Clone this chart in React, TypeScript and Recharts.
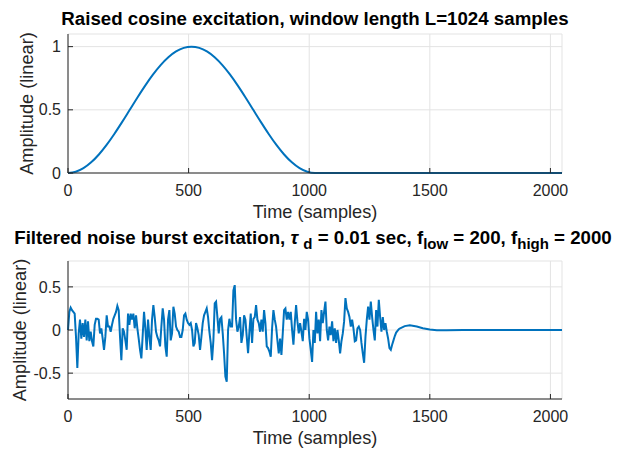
import { LineChart, Line, XAxis, YAxis, CartesianGrid } from 'recharts'

const FONT = '"Liberation Sans", Arial, Helvetica, sans-serif'
const BLUE = '#0072bd'
const AXIS = '#262626'
const GRID = '#e3e3e3'

// raised cosine window, read every 32 samples, then flat to the end
const rcSamples = [
  0, 32, 64, 96, 128, 160, 192, 224, 256, 288, 320, 352, 384, 416, 448, 480, 512,
  544, 576, 608, 640, 672, 704, 736, 768, 800, 832, 864, 896, 928, 960, 992, 1024, 2048,
]
const rcValues = [
  0, 0.0096, 0.0381, 0.0843, 0.1464, 0.2222, 0.3087, 0.4025, 0.5, 0.5975, 0.6913, 0.7778,
  0.8536, 0.9157, 0.9619, 0.9904, 1,
  0.9904, 0.9619, 0.9157, 0.8536, 0.7778, 0.6913, 0.5975, 0.5, 0.4025, 0.3087, 0.2222,
  0.1464, 0.0843, 0.0381, 0.0096, 0, 0,
]

// filtered noise burst, read every ~5.5 samples
const burstStep = 5.53
const burstValues = [
  0.0, 0.21, 0.26, 0.23, 0.21, 0.19, -0.08, -0.44, -0.04, 0.12,
  -0.1, 0.08, -0.08, 0.12, -0.12, 0.1, -0.13, -0.02, -0.13, -0.19,
  0.06, 0.13, 0.13, 0.12, -0.04, 0.02, -0.1, -0.23, -0.08, 0.17,
  0.04, 0.04, -0.02, 0.06, 0.13, 0.17, 0.21, 0.28, 0.23, -0.08,
  -0.35, 0.02, -0.02, -0.12, -0.23, 0.19, 0.06, 0.19, 0.12, 0.19,
  0.02, 0.17, 0.02, -0.1, -0.23, -0.33, -0.06, 0.21, 0.02, -0.23,
  0.12, -0.08, -0.23, 0.12, 0.29,
  0.15, -0.02, -0.08, -0.12, -0.19, 0.04, 0.25, 0.12, -0.19, -0.31,
  0.12, 0.23, -0.12, -0.04, 0.27, 0.19, 0.04, 0.0, -0.02, -0.08,
  -0.08, 0.0, 0.17, 0.19, 0.12, 0.08, 0.06, 0.08, 0.0, -0.19,
  -0.15, 0.08, 0.02, -0.06, -0.23, -0.08, 0.08, 0.17, 0.21, 0.25,
  0.15, -0.02, -0.15, -0.35, -0.12, 0.31, 0.33, 0.15, -0.04, 0.13,
  0.15, -0.04, -0.27, -0.54, -0.6, 0.0, 0.13, 0.04, 0.04, 0.46,
  0.52, 0.12, -0.02, 0.04,
  0.15, -0.15, -0.06, 0.17, 0.12, -0.08, -0.27, -0.02, 0.19, -0.15,
  0.13, 0.15, 0.29, 0.12, 0.08, -0.02, 0.12, -0.02, 0.23, 0.08,
  -0.19, -0.21, -0.25, -0.31, 0.02, 0.23, 0.12, 0.04, -0.12, -0.27,
  -0.1, -0.29, -0.04, 0.23, 0.25, 0.12, 0.21, 0.12, 0.21, 0.0,
  -0.17, 0.08, 0.29, 0.1, -0.04, 0.08, -0.02, -0.13, 0.13, 0.0,
  0.21, 0.12, -0.1, -0.23, -0.37, 0.0, -0.15, 0.21, -0.04, 0.12,
  -0.13, 0.23, 0.08, 0.21,
  0.33, 0.0, -0.12, 0.04, -0.06, 0.1, -0.13, 0.02, -0.15, 0.0,
  -0.12, -0.27, -0.13, -0.04, 0.1, 0.37, 0.25, 0.21, 0.15, 0.04,
  0.12, 0.02, -0.13, -0.12, 0.02, 0.04, 0.0, -0.15, -0.27, -0.38,
  -0.08, 0.12, 0.27, 0.12, 0.33, 0.15, 0.0, -0.12, 0.23, 0.04,
  0.35, 0.15, -0.02, 0.15, 0.0, 0.08, -0.02, -0.1, -0.21, -0.23,
  -0.17, -0.12, -0.07, -0.03, -0.01, 0.01, 0.02,
]
// filter ringing after the burst
const tailSamples = [1396, 1417, 1446, 1471, 1500, 1529, 1570, 1637, 2048]
const tailValues = [0.045, 0.054, 0.04, 0.02, 0.005, -0.004, -0.003, 0, 0]

const xTicks = [0, 500, 1000, 1500, 2000]
const rcTicks = [0, 0.5, 1]
const noiseTicks = [-0.5, 0, 0.5]

const rcData = rcSamples.map((x, i) => ({ x, y: rcValues[i] }))
const noiseData = [
  ...burstValues.map((y, i) => ({ x: i * burstStep, y })),
  ...tailSamples.map((x, i) => ({ x, y: tailValues[i] })),
]

const tickStyle = { fill: AXIS, fontSize: 16, fontFamily: FONT }

interface SubplotProps {
  data: { x: number; y: number }[]
  yDomain: [number, number]
  yTicks: number[]
  height: number
  bottom: number
  smooth?: boolean
}

function Subplot({ data, yDomain, yTicks, height, bottom, smooth }: SubplotProps) {
  return (
    <LineChart
      width={618}
      height={height}
      data={data}
      margin={{ top: 34, right: 56, left: 28, bottom }}
    >
      <CartesianGrid stroke={GRID} xAxisId="b" yAxisId="l" />
      <XAxis
        xAxisId="b"
        dataKey="x"
        type="number"
        domain={[0, 2048]}
        ticks={xTicks}
        stroke={AXIS}
        tickSize={-5}
        tickMargin={17}
        tick={tickStyle}
        height={30}
      />
      <XAxis
        xAxisId="t"
        orientation="top"
        dataKey="x"
        type="number"
        domain={[0, 2048]}
        ticks={xTicks}
        stroke={AXIS}
        tickSize={-5}
        tick={false}
        height={0}
      />
      <YAxis
        yAxisId="l"
        type="number"
        domain={yDomain}
        ticks={yTicks}
        stroke={AXIS}
        tickSize={-5}
        tickMargin={12}
        tick={tickStyle}
        width={40}
      />
      <YAxis
        yAxisId="r"
        orientation="right"
        type="number"
        domain={yDomain}
        ticks={yTicks}
        stroke={AXIS}
        tickSize={-5}
        tick={false}
        width={0}
      />
      <Line
        xAxisId="b"
        yAxisId="l"
        dataKey="y"
        type={smooth ? 'monotone' : 'linear'}
        stroke={BLUE}
        strokeWidth={2}
        dot={false}
        isAnimationActive={false}
      />
    </LineChart>
  )
}

export default function App() {
  const label = { fill: AXIS, fontSize: 18.2, fontFamily: FONT }
  const title = { fill: '#000', fontSize: 18.7, fontFamily: FONT, fontWeight: 700 }
  return (
    <div
      style={{
        position: 'absolute',
        left: 0,
        top: 0,
        width: 618,
        height: 453,
        background: '#fff',
        overflow: 'hidden',
      }}
    >
      <div style={{ position: 'absolute', left: 0, top: 0 }}>
        <Subplot data={rcData} yDomain={[0, 1.1]} yTicks={rcTicks} height={230} bottom={27} smooth />
      </div>
      <div style={{ position: 'absolute', left: 0, top: 227 }}>
        <Subplot data={noiseData} yDomain={[-0.8, 0.8]} yTicks={noiseTicks} height={226} bottom={24} />
      </div>
      <svg
        width={618}
        height={453}
        style={{ position: 'absolute', left: 0, top: 0, pointerEvents: 'none' }}
      >
        <text x={315} y={25} textAnchor="middle" {...title}>
          Raised cosine excitation, window length L=1024 samples
        </text>
        <text x={315} y={218} textAnchor="middle" {...label}>
          Time (samples)
        </text>
        <text transform="translate(33,103.5) rotate(-90)" textAnchor="middle" {...label}>
          Amplitude (linear)
        </text>

        <text x={313} y={244} textAnchor="middle" {...title}>
          Filtered noise burst excitation,{' '}
          <tspan fontStyle="italic">τ</tspan>{' '}
          <tspan fontSize={15} dy={5}>d</tspan>
          <tspan dy={-5}> = 0.01 sec, f</tspan>
          <tspan fontSize={15} dy={5}>low</tspan>
          <tspan dy={-5}> = 200, f</tspan>
          <tspan fontSize={15} dy={5}>high</tspan>
          <tspan dy={-5}> = 2000</tspan>
        </text>
        <text x={315} y={444} textAnchor="middle" {...label}>
          Time (samples)
        </text>
        <text transform="translate(26,330) rotate(-90)" textAnchor="middle" {...label}>
          Amplitude (linear)
        </text>
      </svg>
    </div>
  )
}
